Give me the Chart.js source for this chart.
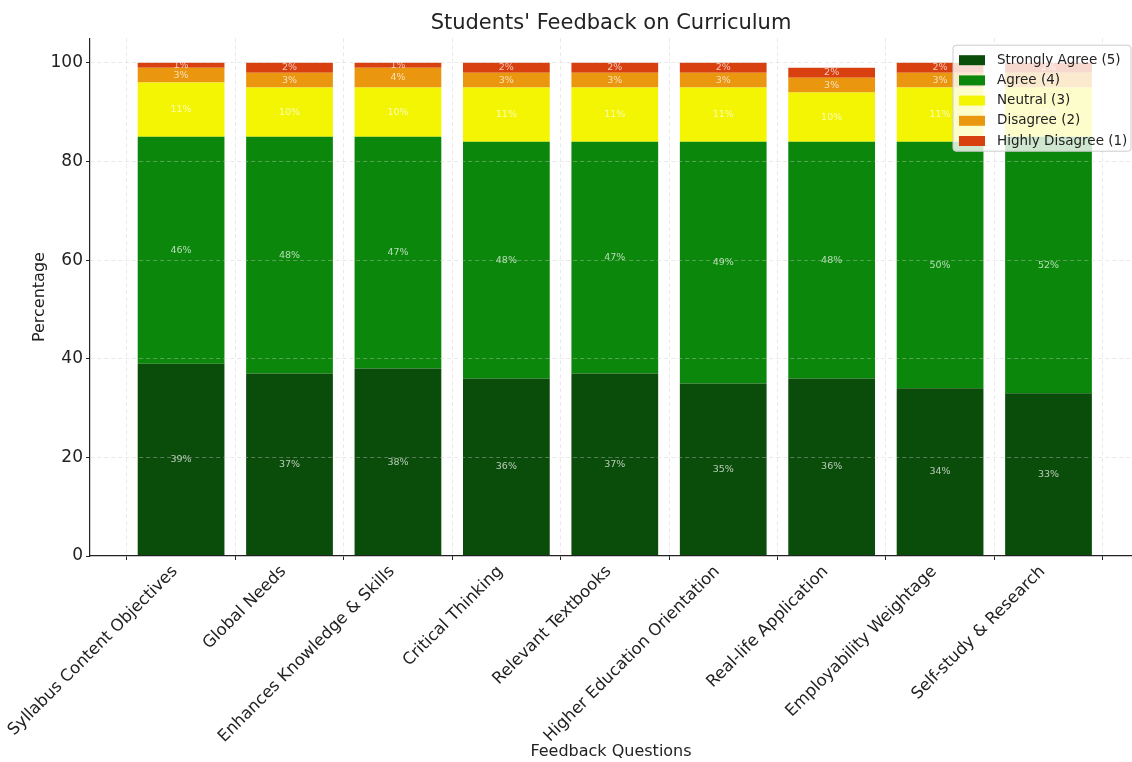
<!DOCTYPE html>
<html>
<head>
<meta charset="utf-8">
<title>Students' Feedback on Curriculum</title>
<script src="https://cdn.jsdelivr.net/npm/chart.js@4.4.1/dist/chart.umd.min.js"></script>
<style>
  html, body { margin: 0; padding: 0; background: #ffffff; overflow: hidden; }
  canvas { display: block; }
</style>
</head>
<body>
<canvas id="chart" width="1132" height="762"></canvas>
<script>
// Survey questions (x axis)
const categories = [
  "Syllabus Content Objectives",
  "Global Needs",
  "Enhances Knowledge & Skills",
  "Critical Thinking",
  "Relevant Textbooks",
  "Higher Education Orientation",
  "Real-life Application",
  "Employability Weightage",
  "Self-study & Research"
];

// Response shares in percent, one array per answer level
const stronglyAgree  = [39, 37, 38, 36, 37, 35, 36, 34, 33];
const agree          = [46, 48, 47, 48, 47, 49, 48, 50, 52];
const neutral        = [11, 10, 10, 11, 11, 11, 10, 11, 10];
const disagree       = [3, 3, 4, 3, 3, 3, 3, 3, 3];
const highlyDisagree = [1, 2, 1, 2, 2, 2, 2, 2, 2];

const seriesNames = ["Strongly Agree (5)", "Agree (4)", "Neutral (3)", "Disagree (2)", "Highly Disagree (1)"];
const seriesColors = ["#0a4c0a", "#0b880b", "#f3f502", "#ea960e", "#d8400f"];

const yTicks = [0, 20, 40, 60, 80, 100];

const FONT = "'DejaVu Sans', 'Liberation Sans', sans-serif";
const TEXT = "#222222";

const seriesValues = [stronglyAgree, agree, neutral, disagree, highlyDisagree];
const datasets = seriesValues.map((vals, k) => ({
  label: seriesNames[k],
  data: vals.map((v, i) => ({ x: i, y: v })),
  backgroundColor: seriesColors[k],
  borderWidth: 0,
  categoryPercentage: 1.0,
  barPercentage: 0.8
}));

// Percentage text in the middle of each stacked segment
const segmentLabels = {
  id: 'segmentLabels',
  afterDatasetsDraw(chart) {
    const ctx = chart.ctx;
    ctx.save();
    ctx.font = "9.5px " + FONT;
    ctx.fillStyle = "rgba(255,255,255,0.7)";
    ctx.textAlign = "center";
    ctx.textBaseline = "middle";
    chart.data.datasets.forEach((ds, di) => {
      const meta = chart.getDatasetMeta(di);
      meta.data.forEach((bar, i) => {
        const p = bar.getProps(['x', 'y', 'base'], true);
        ctx.fillText(ds.data[i].y + "%", p.x, (p.y + p.base) / 2);
      });
    });
    ctx.restore();
  }
};

// Framed legend in the upper right corner of the plot, drawn over the bars
const cornerLegend = {
  id: 'cornerLegend',
  afterDraw(chart) {
    const ctx = chart.ctx;
    const a = chart.chartArea;
    const w = 178, h = 106;
    const x = a.right - w - 1, y = a.top + 7;
    ctx.save();
    ctx.beginPath();
    ctx.roundRect(x, y, w, h, 3);
    ctx.fillStyle = "rgba(255,255,255,0.8)";
    ctx.fill();
    ctx.strokeStyle = "#cccccc";
    ctx.lineWidth = 1;
    ctx.stroke();
    ctx.font = "13.5px " + FONT;
    ctx.textAlign = "left";
    ctx.textBaseline = "middle";
    chart.data.datasets.forEach((ds, i) => {
      const cy = y + 15 + i * 20.2;
      ctx.fillStyle = ds.backgroundColor;
      ctx.fillRect(x + 6, cy - 5, 26, 10);
      ctx.fillStyle = TEXT;
      ctx.fillText(ds.label, x + 44, cy);
    });
    ctx.restore();
  }
};

const gridColor = "rgba(200,200,200,0.4)";

new Chart(document.getElementById('chart'), {
  type: 'bar',
  data: { datasets },
  plugins: [segmentLabels, cornerLegend],
  options: {
    responsive: false,
    animation: false,
    devicePixelRatio: 1,
    layout: { padding: 0 },
    plugins: {
      legend: { display: false },
      tooltip: { enabled: false },
      title: {
        display: true,
        text: "Students' Feedback on Curriculum",
        fullSize: false,
        color: TEXT,
        font: { family: FONT, size: 21, weight: 'normal' },
        padding: { top: 11, bottom: 2 }
      }
    },
    scales: {
      x: {
        type: 'linear',
        min: -0.84,
        max: 8.77,
        stacked: true,
        offset: false,
        afterBuildTicks: s => { s.ticks = categories.map((_, i) => ({ value: i })); },
        afterFit: s => { s.height = 206; s.paddingLeft = 0; s.paddingRight = 0; },
        ticks: {
          autoSkip: false,
          minRotation: 45,
          maxRotation: 45,
          padding: 2,
          labelOffset: -6,
          color: TEXT,
          font: { family: FONT, size: 16.5 },
          callback: v => categories[v]
        },
        grid: { color: gridColor, z: 1, drawTicks: true, tickColor: TEXT, tickLength: 4 },
        border: { display: true, color: TEXT, width: 1.2, dash: [4, 3], z: 1 },
        title: {
          display: true,
          text: "Feedback Questions",
          color: TEXT,
          font: { family: FONT, size: 16 },
          padding: { top: 0, bottom: 1 }
        }
      },
      y: {
        min: 0,
        max: 105,
        stacked: true,
        afterBuildTicks: s => { s.ticks = yTicks.map(v => ({ value: v })); },
        afterFit: s => { s.width = 90; s.paddingTop = 0; s.paddingBottom = 0; },
        ticks: { color: TEXT, font: { family: FONT, size: 17 }, padding: 3 },
        grid: { color: gridColor, z: 1, drawTicks: true, tickColor: TEXT, tickLength: 4 },
        border: { display: true, color: TEXT, width: 1.2, dash: [4, 3], z: 1 },
        title: {
          display: true,
          text: "Percentage",
          color: TEXT,
          font: { family: FONT, size: 16 },
          padding: { top: 30, bottom: 0 }
        }
      }
    }
  }
});
</script>
</body>
</html>
